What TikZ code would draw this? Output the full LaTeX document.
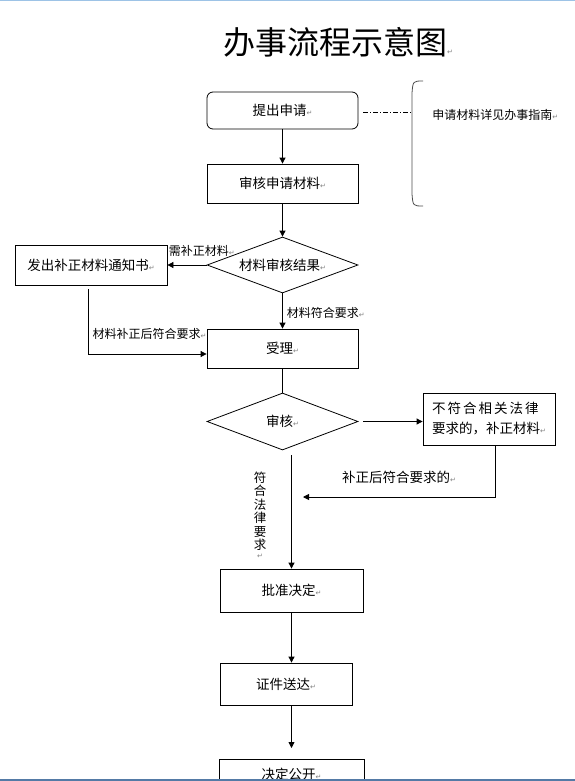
\documentclass[tikz,border=0pt]{standalone}
\usepackage{fontspec}
\setmainfont{Noto Sans CJK SC}
\newfontfamily\symfont{DejaVu Sans}
\newfontfamily\widefont[LetterSpace=15]{Noto Sans CJK SC}
\usetikzlibrary{shapes.geometric,arrows.meta}
\newcommand{\retmark}{{\symfont\fontsize{7}{7}\selectfont\textcolor{gray}{↵}}}
\definecolor{wintop}{RGB}{157,195,230}
\definecolor{winbottom}{RGB}{84,122,166}
\tikzset{
  stepbox/.style={draw, minimum width=151pt, minimum height=39pt, inner sep=2pt, font=\fontsize{13.5}{16}\selectfont},
  roundbox/.style={stepbox, rounded corners=6pt},
  choice/.style={draw, diamond, aspect=2.7, minimum width=151pt, minimum height=56pt, inner sep=0pt, font=\fontsize{13.5}{16}\selectfont},
  lbl/.style={inner sep=1pt, font=\fontsize{12}{14}\selectfont},
  arr/.style={-{Triangle[length=6pt,width=6pt]}},
  guideline/.style={dash pattern=on 5pt off 2pt on 1pt off 2pt},
  bracebar/.style={draw=black!70},
  titletext/.style={font=\fontsize{32}{36}\selectfont}
}
\begin{document}
\begin{tikzpicture}[x=1pt, y=-1pt, line width=0.8pt]
    \useasboundingbox (0,0) rectangle (575,781);
    % Window edges
    \draw[wintop, line width=1.5pt] (0,0.75) -- (575,0.75);

    % Nodes
    \node[titletext] (title) at (338,42) {办事流程示意图\retmark};
    \node[roundbox, minimum height=37pt] (apply) at (282.5,110.5) {提出申请\retmark};
    \node[stepbox] (review) at (282.5,183.5) {审核申请材料\retmark};
    \node[choice] (result) at (282.5,265) {材料审核结果\retmark};
    \node[stepbox, minimum width=152pt, minimum height=40pt] (notice) at (91,265) {发出补正材料通知书\retmark};
    \node[stepbox] (accept) at (282.5,348.5) {受理\retmark};
    \node[choice, minimum height=57pt] (audit) at (282.5,421.5) {审核\retmark};
    \node[stepbox, minimum width=132pt, minimum height=52pt, align=left, font=\fontsize{13.5}{20}\selectfont] (fix) at (489,419) {{\widefont 不符合相关法律}\\要求的，补正材料\retmark};
    \node[stepbox, minimum width=143pt, minimum height=43pt] (approve) at (291.5,590.5) {批准决定\retmark};
    \node[stepbox, minimum width=132pt, minimum height=42pt] (deliver) at (286,684) {证件送达\retmark};
    \node[stepbox, minimum width=145pt, minimum height=30pt, anchor=north] (publish) at (291.5,759) {决定公开\retmark};
    \node[lbl, anchor=west] (guide) at (431,115) {申请材料详见办事指南\retmark};
    \node[lbl, align=center, font=\fontsize{12.5}{13.5}\selectfont] (legal) at (260,515) {符\\合\\法\\律\\要\\求\\[-5pt]\retmark};
    \coordinate (brace) at (412,112);
    \coordinate (back) at (303,497);

    % Edges
    \draw[arr] (apply) -- (review);
    \draw[arr] (review) -- (result);
    \draw[arr] (result.west) -- (notice.east) node[lbl, pos=1, anchor=south west, yshift=7pt] {需补正材料\retmark};
    \draw[arr] (result) -- (accept) node[lbl, midway, anchor=west, xshift=3pt, yshift=-2pt] {材料符合要求\retmark};
    \draw[arr] ([xshift=-3pt, yshift=-4pt]notice.south) |- ([yshift=-5.5pt]accept.west) node[lbl, pos=0.76, above=13pt] {材料补正后符合要求\retmark};
    \draw (accept) -- (audit);
    \draw[arr, shorten <=5pt] (audit.east) -- (audit.east -| fix.west);
    \draw[arr] ([xshift=6pt]fix.south) |- (back) node[lbl, pos=0.75, above=12pt, font=\fontsize{13.5}{16}\selectfont] {补正后符合要求的\retmark};
    \draw[arr, shorten <=5pt] (approve.north |- audit.south) -- (approve.north);
    \draw[arr] (approve.south) -- (approve.south |- deliver.north);
    \draw[arr] (deliver.south -| approve.south) -- ([yshift=11pt]publish.north);

    % Side note
    \draw[guideline] ([xshift=5pt, yshift=-1.5pt]apply.east) -- (brace);
    \draw[bracebar] (423,81) .. controls (413,81) .. (412,93) -- (412,194) .. controls (413,206) .. (423,206);

    \draw[winbottom, line width=2pt] (0,780) -- (575,780);
\end{tikzpicture}
\end{document}
